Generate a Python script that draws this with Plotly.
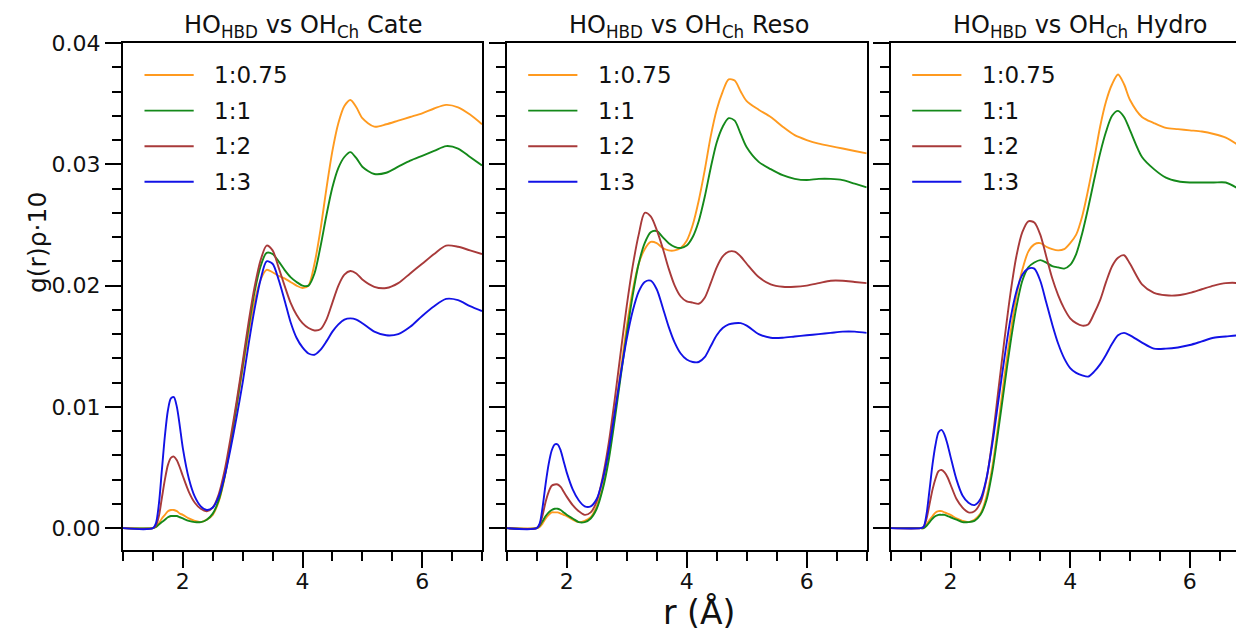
import plotly.graph_objects as go

# ---------------- data ----------------
R = [1.0, 1.5, 1.55, 1.6, 1.65, 1.7, 1.75, 1.8, 1.85, 1.9, 1.95,
     2.0, 2.1, 2.2, 2.3, 2.4, 2.5, 2.6, 2.7, 2.8, 2.9,
     3.0, 3.1, 3.2, 3.3, 3.4, 3.5, 3.6, 3.7, 3.8, 3.9,
     4.0, 4.1, 4.2, 4.3, 4.4, 4.5, 4.6, 4.7, 4.8, 4.9, 5.0,
     5.2, 5.4, 5.6, 5.8, 6.0, 6.2, 6.4, 6.6, 6.8, 7.0]

series_names = ["1:0.75", "1:1", "1:2", "1:3"]
panel_titles = ["HO<sub>HBD</sub> vs OH<sub>Ch</sub> Cate",
                "HO<sub>HBD</sub> vs OH<sub>Ch</sub> Reso",
                "HO<sub>HBD</sub> vs OH<sub>Ch</sub> Hydro"]
x_title = "r (Å)"
y_title = "g(r)ρ·10"

# Cate
cate_075 = [0, 0, 0.0001, 0.0004, 0.0008, 0.0011, 0.0014, 0.0015, 0.0015, 0.0014, 0.0012,
            0.0011, 0.0008, 0.0006, 0.0005, 0.0007, 0.0011, 0.0022, 0.0042, 0.0070, 0.0100,
            0.0131, 0.0161, 0.0187, 0.0205, 0.0213, 0.0211, 0.0208, 0.0206, 0.0203, 0.0200,
            0.0198, 0.0200, 0.0218, 0.0246, 0.0280, 0.0311, 0.0334, 0.0348, 0.0353, 0.0347, 0.0338,
            0.0331, 0.0333, 0.0336, 0.0339, 0.0342, 0.0346, 0.0349, 0.0347, 0.0341, 0.0333]
cate_1 = [0, 0, 0.0001, 0.0003, 0.0005, 0.0007, 0.0009, 0.0010, 0.0010, 0.0010, 0.0009,
          0.0008, 0.0006, 0.0005, 0.0005, 0.0007, 0.0012, 0.0023, 0.0043, 0.0071, 0.0102,
          0.0134, 0.0166, 0.0195, 0.0216, 0.0227, 0.0226, 0.0220, 0.0213, 0.0207, 0.0203,
          0.0200, 0.0200, 0.0210, 0.0232, 0.0258, 0.0281, 0.0297, 0.0306, 0.0310, 0.0305, 0.0298,
          0.0292, 0.0293, 0.0298, 0.0303, 0.0307, 0.0311, 0.0315, 0.0313, 0.0306, 0.0299]
cate_2 = [0, 0, 0.0002, 0.0010, 0.0025, 0.0040, 0.0052, 0.0058, 0.0059, 0.0056, 0.0050,
          0.0043, 0.0030, 0.0021, 0.0016, 0.0014, 0.0017, 0.0028, 0.0048, 0.0075, 0.0105,
          0.0137, 0.0170, 0.0199, 0.0221, 0.0233, 0.0229, 0.0215, 0.0200, 0.0186, 0.0176,
          0.0169, 0.0165, 0.0163, 0.0164, 0.0172, 0.0186, 0.0200, 0.0209, 0.0212, 0.0210, 0.0205,
          0.0199, 0.0198, 0.0202, 0.0210, 0.0218, 0.0226, 0.0233, 0.0232, 0.0229, 0.0226]
cate_3 = [0, 0, 0.0004, 0.0020, 0.0048, 0.0076, 0.0097, 0.0107, 0.0108, 0.0100, 0.0084,
          0.0066, 0.0041, 0.0026, 0.0018, 0.0015, 0.0017, 0.0026, 0.0043, 0.0066, 0.0092,
          0.0120, 0.0152, 0.0181, 0.0205, 0.0220, 0.0218, 0.0205, 0.0188, 0.0170, 0.0157,
          0.0149, 0.0144, 0.0143, 0.0147, 0.0154, 0.0162, 0.0168, 0.0172, 0.0173, 0.0172, 0.0169,
          0.0162, 0.0159, 0.0160, 0.0166, 0.0175, 0.0183, 0.0189, 0.0188, 0.0183, 0.0179]

# Reso
reso_075 = [0, 0, 0.0001, 0.0004, 0.0008, 0.0011, 0.0013, 0.0013, 0.0013, 0.0012, 0.0011,
            0.0010, 0.0007, 0.0005, 0.0006, 0.0009, 0.0018, 0.0034, 0.0062, 0.0095, 0.0130,
            0.0166, 0.0196, 0.0218, 0.0230, 0.0236, 0.0235, 0.0231, 0.0229, 0.0229, 0.0231,
            0.0237, 0.0250, 0.0270, 0.0295, 0.0323, 0.0345, 0.0360, 0.0370, 0.0369, 0.0360, 0.0352,
            0.0345, 0.0339, 0.0331, 0.0324, 0.0320, 0.0317, 0.0315, 0.0313, 0.0311, 0.0309]
reso_1 = [0, 0, 0.0002, 0.0006, 0.0010, 0.0013, 0.0015, 0.0016, 0.0016, 0.0015, 0.0013,
          0.0011, 0.0008, 0.0005, 0.0005, 0.0008, 0.0016, 0.0032, 0.0056, 0.0089, 0.0125,
          0.0160, 0.0192, 0.0218, 0.0235, 0.0244, 0.0245, 0.0240, 0.0235, 0.0232, 0.0231,
          0.0233, 0.0240, 0.0253, 0.0273, 0.0297, 0.0318, 0.0331, 0.0338, 0.0336, 0.0325, 0.0314,
          0.0302, 0.0296, 0.0291, 0.0288, 0.0287, 0.0288, 0.0288, 0.0287, 0.0284, 0.0281]
reso_2 = [0, 0, 0.0003, 0.0011, 0.0022, 0.0030, 0.0035, 0.0036, 0.0036, 0.0034, 0.0030,
          0.0026, 0.0019, 0.0014, 0.0011, 0.0013, 0.0022, 0.0042, 0.0070, 0.0106, 0.0145,
          0.0183, 0.0216, 0.0242, 0.0260, 0.0257, 0.0246, 0.0231, 0.0214, 0.0200, 0.0191,
          0.0187, 0.0186, 0.0185, 0.0190, 0.0202, 0.0215, 0.0224, 0.0228, 0.0228, 0.0224, 0.0218,
          0.0207, 0.0201, 0.0199, 0.0199, 0.0200, 0.0202, 0.0204, 0.0204, 0.0203, 0.0202]
reso_3 = [0, 0, 0.0004, 0.0018, 0.0037, 0.0053, 0.0064, 0.0069, 0.0069, 0.0064, 0.0055,
          0.0046, 0.0032, 0.0023, 0.0018, 0.0018, 0.0024, 0.0040, 0.0064, 0.0095, 0.0127,
          0.0156, 0.0179, 0.0195, 0.0203, 0.0204, 0.0197, 0.0182, 0.0166, 0.0153, 0.0144,
          0.0139, 0.0137, 0.0137, 0.0141, 0.0150, 0.0159, 0.0165, 0.0168, 0.0169, 0.0169, 0.0167,
          0.0160, 0.0157, 0.0157, 0.0158, 0.0159, 0.0160, 0.0161, 0.0162, 0.0162, 0.0161]

# Hydro
hydro_075 = [0, 0, 0, 0.0003, 0.0007, 0.0010, 0.0013, 0.0014, 0.0014, 0.0013, 0.0012,
             0.0011, 0.0008, 0.0006, 0.0005, 0.0007, 0.0012, 0.0026, 0.0051, 0.0086, 0.0125,
             0.0160, 0.0191, 0.0213, 0.0228, 0.0234, 0.0235, 0.0232, 0.0230, 0.0229, 0.0230,
             0.0235, 0.0242, 0.0257, 0.0279, 0.0304, 0.0331, 0.0352, 0.0366, 0.0374, 0.0366, 0.0353,
             0.0339, 0.0334, 0.0330, 0.0329, 0.0328, 0.0327, 0.0325, 0.0322, 0.0316, 0.0308]
hydro_1 = [0, 0, 0, 0.0002, 0.0005, 0.0008, 0.0010, 0.0011, 0.0011, 0.0011, 0.0010,
           0.0009, 0.0007, 0.0005, 0.0005, 0.0006, 0.0011, 0.0023, 0.0047, 0.0081, 0.0117,
           0.0152, 0.0182, 0.0204, 0.0215, 0.0219, 0.0221, 0.0219, 0.0216, 0.0215, 0.0214,
           0.0217, 0.0226, 0.0243, 0.0264, 0.0287, 0.0309, 0.0327, 0.0340, 0.0344, 0.0339, 0.0328,
           0.0306, 0.0296, 0.0289, 0.0286, 0.0285, 0.0285, 0.0285, 0.0285, 0.0280, 0.0272]
hydro_2 = [0, 0, 0.0001, 0.0008, 0.0020, 0.0032, 0.0041, 0.0047, 0.0048, 0.0046, 0.0042,
           0.0036, 0.0024, 0.0017, 0.0013, 0.0014, 0.0021, 0.0040, 0.0073, 0.0114, 0.0155,
           0.0193, 0.0224, 0.0244, 0.0253, 0.0252, 0.0242, 0.0224, 0.0206, 0.0192, 0.0181,
           0.0173, 0.0169, 0.0167, 0.0168, 0.0177, 0.0188, 0.0203, 0.0216, 0.0223, 0.0225, 0.0218,
           0.0201, 0.0194, 0.0192, 0.0192, 0.0194, 0.0197, 0.0200, 0.0202, 0.0202, 0.0199]
hydro_3 = [0, 0, 0.0001, 0.0012, 0.0032, 0.0053, 0.0069, 0.0079, 0.0081, 0.0077, 0.0069,
           0.0059, 0.0040, 0.0027, 0.0021, 0.0019, 0.0024, 0.0041, 0.0070, 0.0105, 0.0140,
           0.0172, 0.0195, 0.0209, 0.0214, 0.0214, 0.0204, 0.0186, 0.0168, 0.0152, 0.0140,
           0.0132, 0.0128, 0.0126, 0.0125, 0.0129, 0.0135, 0.0143, 0.0152, 0.0159, 0.0161, 0.0159,
           0.0153, 0.0148, 0.0148, 0.0149, 0.0151, 0.0154, 0.0157, 0.0158, 0.0159, 0.0159]

panels = [[cate_075, cate_1, cate_2, cate_3],
          [reso_075, reso_1, reso_2, reso_3],
          [hydro_075, hydro_1, hydro_2, hydro_3]]

colors = ["#ff9a1f", "#14891a", "#a83a3a", "#1212e6"]

# ---------------- layout geometry ----------------
# coordinates below are in browser-window pixels; the page body has an 8px margin
OFF = 8
W, H = 1244 - OFF, 632 - OFF
PL, PT, PB = 123, 43, 550          # plot-area left/top/bottom in window pixels
ML, MT = PL - OFF, PT - OFF
MB = (632 - OFF) - (PB - OFF)
PW = W - ML
PH = PB - PT
panel_px = [(123, 482), (506.7, 866.7), (890.7, 1244)]
x_ranges = [[1, 7], [1, 7], [1, 1 + (1244 - 890.7) / 59.83]]
Y_RANGE = [-0.0018, 0.04]


def px2x(px):
    return (px - PL) / PW


def py2y(py):
    return (PB - py) / PH


FONT = "DejaVu Sans"
fig = go.Figure()

for i, series in enumerate(panels):
    ax = "" if i == 0 else str(i + 1)
    for j, vals in enumerate(series):
        fig.add_trace(go.Scatter(
            x=R, y=vals, mode="lines", name=series_names[j],
            line=dict(color=colors[j], width=1.9, shape="spline", smoothing=0.8),
            xaxis="x" + ax, yaxis="y" + ax, showlegend=False))

layout = dict(
    width=W, height=H,
    margin=dict(l=ML, r=0, t=MT, b=MB, pad=0),
    paper_bgcolor="white", plot_bgcolor="white",
    font=dict(family=FONT, size=22, color="black"),
    showlegend=False,
)

for i in range(3):
    ax = "" if i == 0 else str(i + 1)
    x0, x1 = panel_px[i]
    layout["xaxis" + ax] = dict(
        domain=[px2x(x0), min(1.0, px2x(x1))], range=x_ranges[i],
        anchor="y" + ax, showgrid=False, zeroline=False,
        showline=True, linecolor="black", linewidth=2, mirror=True,
        ticks="outside", ticklen=16, tickwidth=2, tickcolor="black",
        tick0=0, dtick=2, ticklabelstandoff=-5,
        tickfont=dict(family=FONT, size=22, color="#111"),
        minor=dict(dtick=0.5, tick0=0, ticks="outside", ticklen=9, tickwidth=2,
                   tickcolor="black", showgrid=False),
    )
    layout["yaxis" + ax] = dict(
        domain=[0, 1], range=Y_RANGE, anchor="x" + ax,
        showgrid=False, zeroline=False,
        showline=True, linecolor="black", linewidth=2, mirror=(i < 2),
        ticks="outside", ticklen=16, tickwidth=2, tickcolor="black",
        tick0=0, dtick=0.01, tickformat=".2f", showticklabels=(i == 0),
        tickfont=dict(family=FONT, size=22, color="#111"),
        minor=dict(dtick=0.002, tick0=0, ticks="outside", ticklen=9, tickwidth=2,
                   tickcolor="black", showgrid=False),
    )

annotations = []
shapes = []
title_cx = [303.5, 688.5, 1080]
for i in range(3):
    annotations.append(dict(
        text=panel_titles[i], x=px2x(title_cx[i]), y=py2y(26), xref="paper", yref="paper",
        xanchor="center", yanchor="middle", showarrow=False,
        font=dict(family=FONT, size=24, color="#111")))
    left = panel_px[i][0]
    for j, name in enumerate(series_names):
        yy = 75 + j * 35.6
        shapes.append(dict(type="line", xref="paper", yref="paper",
                           x0=px2x(left + 21.5), x1=px2x(left + 70.7),
                           y0=py2y(yy), y1=py2y(yy),
                           line=dict(color=colors[j], width=1.9)))
        annotations.append(dict(
            text=name, x=px2x(left + 89), y=py2y(yy), xref="paper", yref="paper",
            xanchor="left", yanchor="middle", showarrow=False,
            font=dict(family=FONT, size=23, color="#111")))

annotations.append(dict(
    text=y_title, x=px2x(37), y=py2y(243), xref="paper", yref="paper",
    xanchor="center", yanchor="middle", textangle=-90, showarrow=False,
    font=dict(family=FONT, size=25, color="#111")))
annotations.append(dict(
    text=x_title, x=px2x(699), y=py2y(612), xref="paper", yref="paper",
    xanchor="center", yanchor="middle", showarrow=False,
    font=dict(family=FONT, size=33, color="#111")))

layout["annotations"] = annotations
layout["shapes"] = shapes
fig.update_layout(**layout)

fig.write_html("out.html")
